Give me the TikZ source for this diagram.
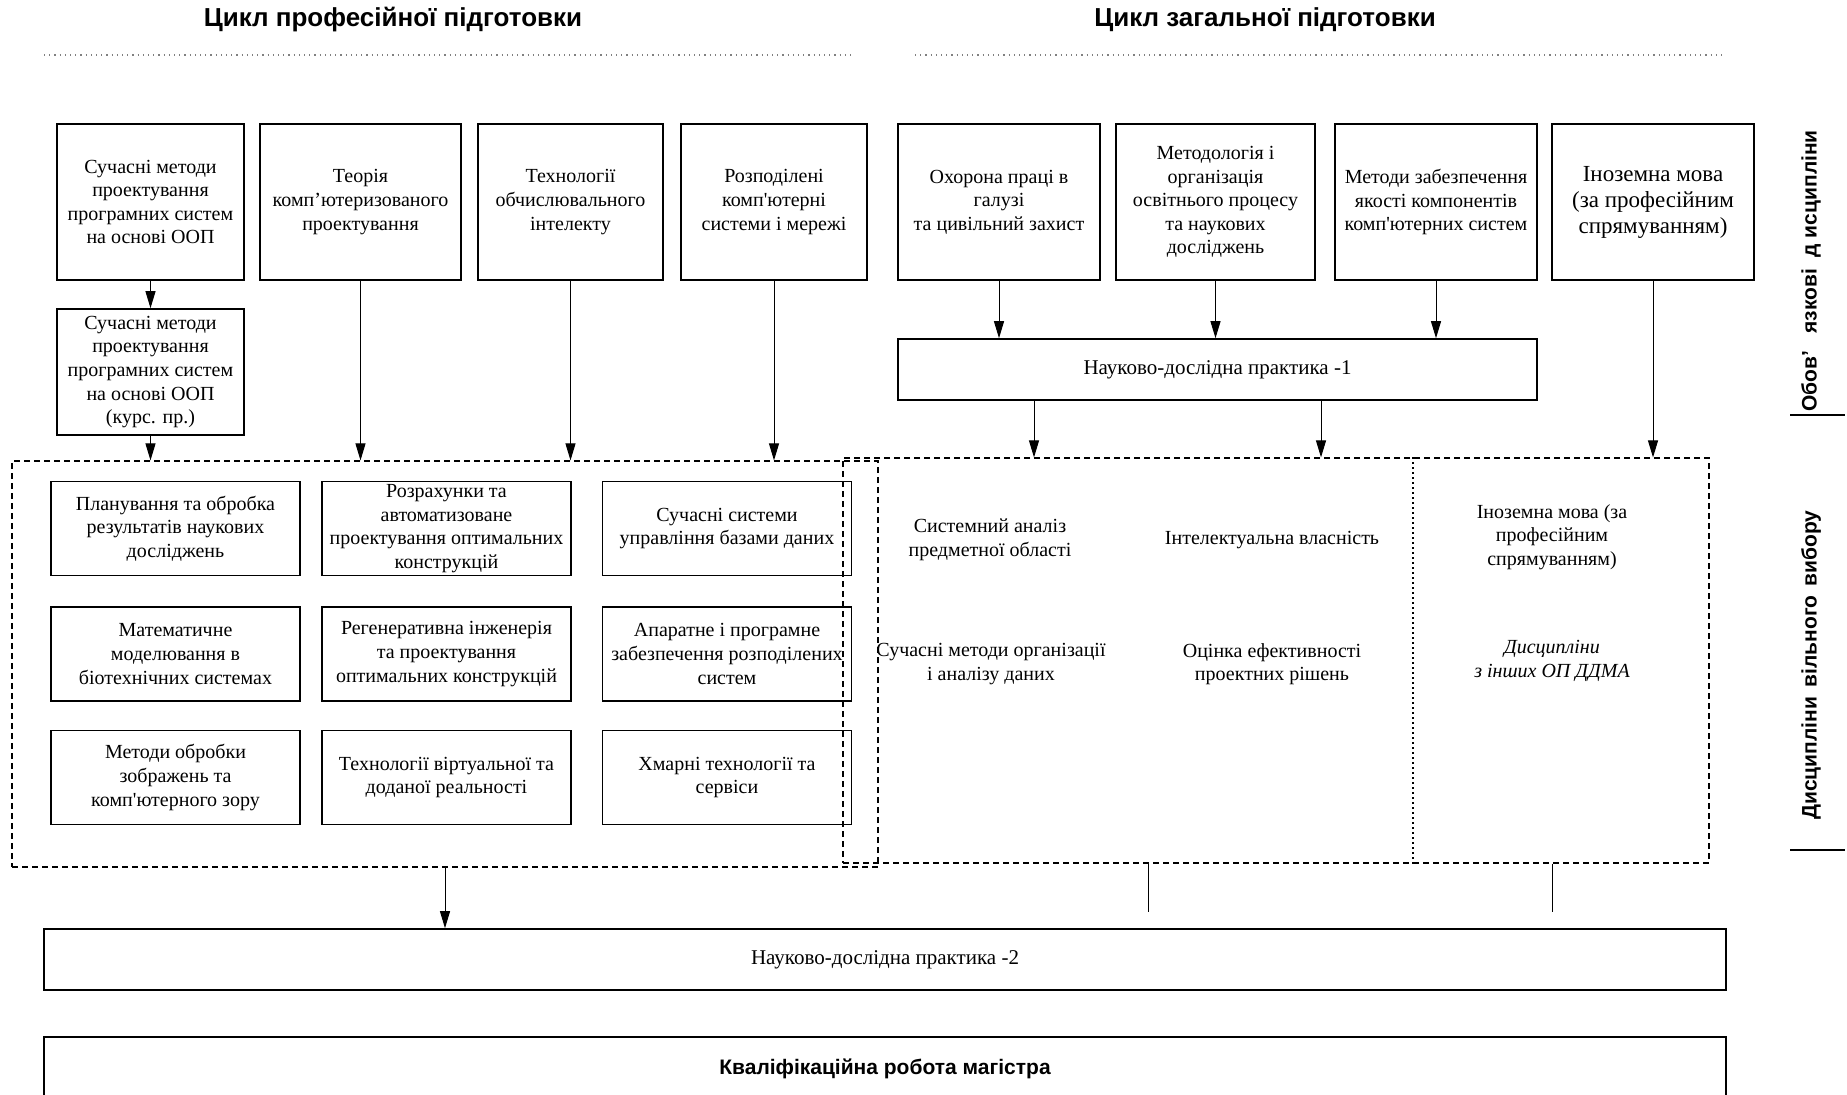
\documentclass[tikz,border=0pt]{standalone}
\usepackage{fontspec}
\setmainfont{Liberation Serif}
\setsansfont{Liberation Sans}
\usepackage{tikz}
\usetikzlibrary{arrows.meta, positioning, calc}

\begin{document}
\begin{tikzpicture}[x=0.5pt, y=-0.5pt,
    course/.style={rectangle, draw, line width=0.8pt, minimum width=#1, minimum height=78pt,
                   align=center, inner sep=1pt, font=\fontsize{10}{11.8}\selectfont},
    option/.style={rectangle, draw, line width=0.8pt, minimum width=124.5pt, minimum height=47pt,
                   align=center, inner sep=0pt, font=\fontsize{10}{11.8}\selectfont},
    practice/.style={rectangle, draw, line width=0.8pt, minimum width=#1, minimum height=30.5pt,
                   font=\fontsize{10.5}{12}\selectfont},
    group/.style={rectangle, draw, dash pattern=on 3pt off 2pt, line width=0.6pt,
                   minimum width=433pt, inner sep=0pt},
    free/.style={align=center, font=\fontsize{10}{11.8}\selectfont},
    heading/.style={font=\fontsize{13}{15}\sffamily\bfseries},
    side/.style={rotate=90, font=\fontsize{10.5}{13}\sffamily\bfseries},
    arrow/.style={-{Triangle[length=8.5pt, width=5pt]}, line width=0.5pt}
]
    \path[use as bounding box] (0,0) rectangle (1847,1094);
    \clip (0,0) rectangle (1847,1094);

    % headings
    \node[heading] (profhead) at (393,20) {Цикл професійної підготовки};
    \node[heading] (genhead) at (1265,20) {Цикл загальної підготовки};
    \draw[dotted, line width=0.6pt, gray] (44,55) -- (853,55);
    \draw[dotted, line width=0.6pt, gray] (915,55) -- (1726,55);

    % compulsory disciplines
    \node[course=93.5pt] (sdm) at (150.5,202) {Сучасні методи\\проектування\\програмних систем\\на основі ООП};
    \node[course=100.5pt] (theory) at (360.5,202) {Теорія\\комп’ютеризованого\\проектування};
    \node[course=92.5pt] (intel) at (570.5,202) {Технології\\обчислювального\\інтелекту};
    \node[course=93pt] (distrib) at (774,202) {Розподілені\\комп\textquotesingle ютерні\\системи і мережі};
    \node[course=101pt] (safety) at (999,202) {Охорона праці в\\галузі\\та цивільний захист};
    \node[course=99.5pt] (method) at (1215.5,202) {Методологія і\\організація\\освітнього процесу\\та наукових\\досліджень};
    \node[course=101pt] (quality) at (1436,202) {Методи забезпечення\\якості компонентів\\комп\textquotesingle ютерних систем};
    \node[course=101pt, font=\fontsize{11.5}{13}\selectfont] (lang) at (1653,202) {Іноземна мова\\(за професійним\\спрямуванням)};

    \node[course=93.5pt, minimum height=63pt] (sdmcw) at (150.5,372) {Сучасні методи\\проектування\\програмних систем\\на основі ООП\\(курс. пр.)};
    \node[practice=319.5pt] (prac1) at (1217.5,369.5) {Науково-дослідна практика -1};

    % elective groups
    \node[group, minimum height=203pt] (profopt) at (445,664) {};
    \node[group, minimum height=202.5pt] (genopt) at (1276,660.5) {};
    \draw[dash pattern=on 1pt off 1.5pt, line width=0.6pt] ([xshift=68.5pt]genopt.north) -- ([xshift=68.5pt]genopt.south);

    \node[option] (plan) at (175.5,528.5) {Планування та обробка\\результатів наукових\\досліджень};
    \node[option] (calc) at (446.5,528.5) {Розрахунки та\\автоматизоване\\проектування оптимальних\\конструкцій};
    \node[option] (dbms) at (727,528.5) {Сучасні системи\\управління базами даних};
    \node[option] (model) at (175.5,654) {Математичне\\моделювання в\\біотехнічних системах};
    \node[option] (regen) at (446.5,654) {Регенеративна інженерія\\та проектування\\оптимальних конструкцій};
    \node[option] (hwsw) at (727,654) {Апаратне і програмне\\забезпечення розподілених\\систем};
    \node[option] (vision) at (175.5,777.5) {Методи обробки\\зображень та\\комп\textquotesingle ютерного зору};
    \node[option] (vr) at (446.5,777.5) {Технології віртуальної та\\доданої реальності};
    \node[option] (cloud) at (727,777.5) {Хмарні технології та\\сервіси};

    \node[free] (sysan) at (990,540) {Системний аналіз\\предметної області};
    \node[free] (ip) at (1272,540) {Інтелектуальна власність};
    \node[free] (dataorg) at (991,664) {Сучасні методи організації\\і аналізу даних};
    \node[free] (effect) at (1272,664) {Оцінка ефективності\\проектних рішень};
    \node[free] (forlang) at (1552,537) {Іноземна мова (за\\професійним\\спрямуванням)};
    \node[free, font=\fontsize{10}{11.8}\selectfont\itshape] (other) at (1552,661) {Дисципліни\\з інших ОП ДДМА};

    % practice and thesis
    \node[practice=841pt] (prac2) at (885,959.5) {Науково-дослідна практика -2};
    \node[practice=841pt, minimum height=32pt, font=\fontsize{10.5}{12}\sffamily\bfseries] (thesis) at (885,1069) {Кваліфікаційна\ робота\ магістра};

    % side labels
    \node[side] (complab) at (1811,271) {Обов’\ \ \ язкові\ \ д исципліни};
    \node[side] (freelab) at (1811,665) {Дисципліни\ \,вільного\ \,вибору};
    \coordinate (compend) at (1790,415);
    \coordinate (freeend) at (1790,850);
    \draw[line width=0.8pt] (compend) -- ++(55,0);
    \draw[line width=0.8pt] (freeend) -- ++(55,0);

    % connectors
    \draw[arrow] (sdm) -- (sdmcw);
    \draw[arrow] (sdmcw) -- (sdmcw |- profopt.north);
    \draw[arrow] (theory) -- (theory |- profopt.north);
    \draw[arrow] (intel) -- (intel |- profopt.north);
    \draw[arrow] (distrib) -- (distrib |- profopt.north);

    \draw[arrow] (safety) -- (safety |- prac1.north);
    \draw[arrow] (method) -- (method |- prac1.north);
    \draw[arrow] (quality) -- (quality |- prac1.north);
    \draw[arrow] ([xshift=-91.75pt]prac1.south) -- ([xshift=-91.75pt]prac1.south |- genopt.north);
    \draw[arrow] ([xshift=51.75pt]prac1.south) -- ([xshift=51.75pt]prac1.south |- genopt.north);
    \draw[arrow] (lang) -- (lang |- genopt.north);

    \draw[arrow] (profopt.south) -- (profopt.south |- prac2.north);
    \coordinate (gap1) at (1148,912);
    \coordinate (gap2) at (1552,912);
    \draw[line width=0.5pt] (gap1 |- genopt.south) -- (gap1);
    \draw[line width=0.5pt] (gap2 |- genopt.south) -- (gap2);
\end{tikzpicture}
\end{document}
